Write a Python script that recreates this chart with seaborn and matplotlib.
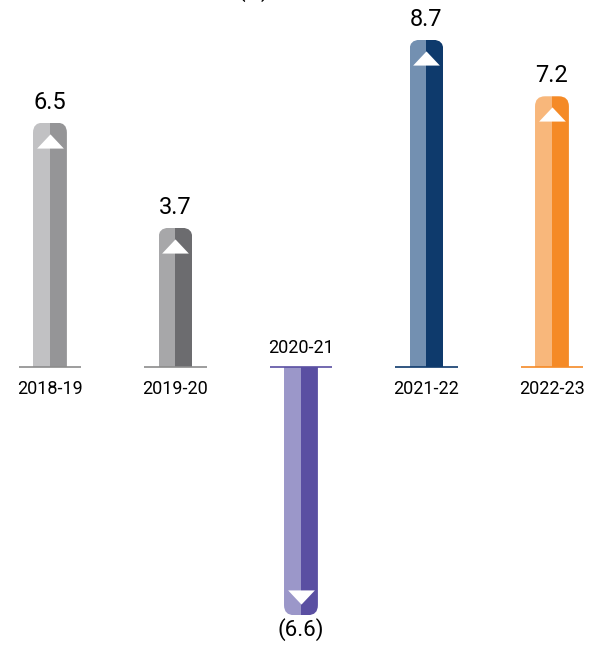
import numpy as np
import pandas as pd
import matplotlib
matplotlib.use('Agg')
import matplotlib.pyplot as plt
import seaborn as sns
from matplotlib.patches import FancyBboxPatch
from matplotlib.path import Path

# datos
years = ['2018-19', '2019-20', '2020-21', '2021-22', '2022-23']
growth = [6.5, 3.7, -6.6, 8.7, 7.2]
value_labels = ['6.5', '3.7', '(6.6)', '8.7', '7.2']
light_colors = ['#c1c1c3', '#a7a7a9', '#9b97c9', '#7390b1', '#f8b77b']
dark_colors = ['#959597', '#6c6c6f', '#5a4fa2', '#0e3a6c', '#f58a26']
line_colors = ['#8c8c8c', '#8c8c8c', '#5a4fa2', '#0e3a6c', '#f58a26']

df = pd.DataFrame({'year': years * 2, 'value': growth * 2,
                   'half': ['left'] * 5 + ['right'] * 5})

sns.set_style('white')
plt.rcParams['font.family'] = ['Roboto', 'DejaVu Sans']

fig = plt.figure(figsize=(5.93, 6.45), dpi=100)
ax = fig.add_axes([0, 0, 1, 1])
bw = 0.27
sns.barplot(data=df, x='year', y='value', hue='half', order=years,
            hue_order=['left', 'right'], dodge=True, width=bw,
            errorbar=None, legend=False, linewidth=0, ax=ax)

# baseline en y=367 px, ~37.6 px por unidad
px_y = 37.6
xlim = (-0.398, 4.327)
ylim = (-(645 - 367) / px_y, 367 / px_y)
ax.set_xlim(*xlim)
ax.set_ylim(*ylim)
ax.axis('off')

px_x = 593 / (xlim[1] - xlim[0])
aspect = px_x / px_y
r = 10 / px_x

for k, cont in enumerate(ax.containers):
    cols = light_colors if k == 0 else dark_colors
    for i, bar in enumerate(cont.patches):
        bar.set_facecolor(cols[i])
        bar.set_edgecolor('none')
        v = growth[i]
        if v > 0:
            y0, h = -2, v + 2
        else:
            y0, h = v, -v + 2
        clip = FancyBboxPatch((i - bw / 2, y0), bw, h,
                              boxstyle=f'round,pad=0,rounding_size={r}',
                              mutation_aspect=aspect, transform=ax.transData,
                              facecolor='none', edgecolor='none')
        bar.set_clip_path(clip)

# triangulos
up = Path([(-1, -0.53), (1, -0.53), (0, 0.53), (-1, -0.53)],
          [Path.MOVETO, Path.LINETO, Path.LINETO, Path.CLOSEPOLY])
down = Path([(-1, 0.53), (1, 0.53), (0, -0.53), (-1, 0.53)],
            [Path.MOVETO, Path.LINETO, Path.LINETO, Path.CLOSEPOLY])
off = 18 / px_y
for i, v in enumerate(growth):
    if v > 0:
        ax.scatter(i, v - off, marker=up, s=370, color='white', zorder=5, linewidths=0)
    else:
        ax.scatter(i, v + off, marker=down, s=370, color='white', zorder=5, linewidths=0)

# lineas base y textos
for i, v in enumerate(growth):
    ax.hlines(0, i - 0.25, i + 0.25, colors=line_colors[i], lw=1.2, zorder=4)
    if v > 0:
        ax.annotate(value_labels[i], (i, v), xytext=(0, 6.5), textcoords='offset points',
                    ha='center', va='bottom', fontsize=17, color='black')
        ax.annotate(years[i], (i, 0), xytext=(0, -9), textcoords='offset points',
                    ha='center', va='top', fontsize=13, color='black')
    else:
        ax.annotate(value_labels[i], (i, v), xytext=(0, -2), textcoords='offset points',
                    ha='center', va='top', fontsize=16, color='black')
        ax.annotate(years[i], (i, 0), xytext=(0, 7), textcoords='offset points',
                    ha='center', va='bottom', fontsize=13, color='black')

fig.text(253 / 593, 1 + 3 / 645, '(%)', ha='center', va='baseline', fontsize=16,
         color='black')

plt.savefig('out.png', dpi=100)
